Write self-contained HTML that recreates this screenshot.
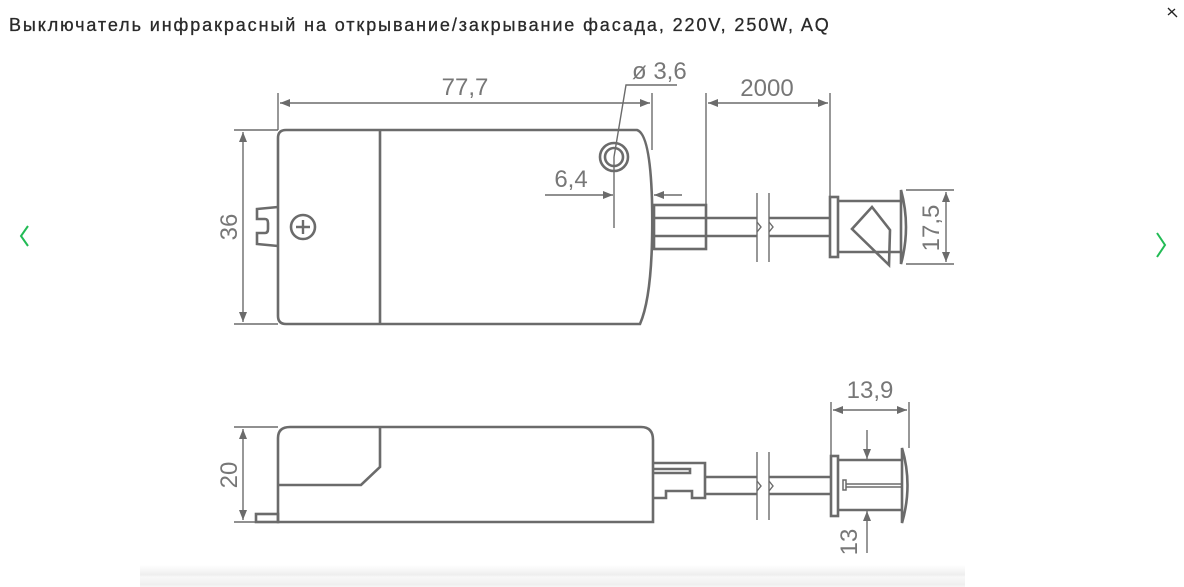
<!DOCTYPE html>
<html><head><meta charset="utf-8"><style>
html,body{margin:0;padding:0;background:#fff;width:1184px;height:587px;overflow:hidden;position:relative}
.t{position:absolute;left:9px;top:15px;font:18px "Liberation Sans","Noto Sans CJK SC",sans-serif;letter-spacing:1.9px;color:#2a2a2a;white-space:nowrap;-webkit-text-stroke:0.3px #2a2a2a}
svg{position:absolute;left:0;top:0}
.sh{position:absolute;left:140px;width:825px;top:565px;height:22px;background:linear-gradient(#fff,#eee 45%,#f8f8f8 55%,#efefef 90%,#f7f7f7)}
</style></head><body>
<div class="sh"></div>
<div class="t">Выключатель инфракрасный на открывание/закрывание фасада, 220V, 250W, AQ</div>
<svg width="1184" height="587" viewBox="0 0 1184 587">
<defs>
<marker id="a" viewBox="0 0 10 10" refX="10" refY="5" markerWidth="10" markerHeight="10" markerUnits="userSpaceOnUse" orient="auto-start-reverse"><path d="M0,1 L10,5 L0,9z" fill="#6b6b6b"/></marker>
</defs>
<g fill="none" stroke="#22bb55" stroke-width="2">
<polyline points="28,226 21,236 28,246"/>
<polyline points="1157,233 1165,245 1157,257"/>
</g>
<g stroke="#222" stroke-width="1.3"><line x1="1168" y1="8" x2="1177" y2="17"/><line x1="1168" y1="15" x2="1175" y2="9"/></g>
<g fill="none" stroke="#6b6b6b" stroke-width="2.6">
<path d="M286,130 H637 Q650,134 652,200 Q654,292 640,324 H286 Q278,324 278,316 V138 Q278,130 286,130Z"/>
<line x1="380" y1="130" x2="380" y2="324"/>
<path d="M278,207 L257,209 V219 H265 Q268,219 268,223 V229 Q268,233 265,233 H257 V244 L278,246"/>
<circle cx="303" cy="227" r="12"/>
<circle cx="614" cy="157" r="14"/><circle cx="614" cy="157" r="9"/>
<rect x="654" y="205" width="52" height="44"/>
<line x1="654" y1="218" x2="757" y2="218"/><line x1="654" y1="236" x2="757" y2="236"/>
<line x1="769" y1="218" x2="830" y2="218"/><line x1="769" y1="236" x2="830" y2="236"/>
<rect x="830" y="197" width="8" height="60"/>
<path d="M838,201 H900 M838,252 H900"/>
<path d="M901,190 Q911,227 901,264 Z"/>
<polygon points="872,207 890,230 889,265 852,229"/>
<path d="M278,522 V438 Q278,427 290,427 H641 Q653,427 653,440 V522 Z"/>
<path d="M380,427 V467 L361,485 H278"/>
<rect x="256" y="514" width="22" height="8"/>
<path d="M654,463 H705 V498 H692 V491 H666 V498 H654"/>
<path d="M654,469 H690 V473 H654"/>
<line x1="705" y1="477" x2="757" y2="477"/><line x1="705" y1="494" x2="757" y2="494"/>
<line x1="769" y1="477" x2="831" y2="477"/><line x1="769" y1="494" x2="831" y2="494"/>
<rect x="831" y="456" width="7" height="60"/>
<path d="M838,460 H902 M838,510 H902"/>
<path d="M902,448 Q913,485 902,523 Z"/>
<rect x="843" y="480" width="3" height="10" stroke-width="1.5"/>
</g>
<g fill="none" stroke="#6b6b6b" stroke-width="1.4">
<path d="M303,220 V234 M296,227 H310" stroke-width="2.4"/>
<path d="M757,193 V262 M769,193 V262 M757,452 V520 M769,452 V520"/>
<path d="M757,222 L761,227 L757,232 M769,222 L773,227 L769,232 M757,481 L761,486 L757,491 M769,481 L773,486 L769,491"/>
<path d="M846,484 H902 M846,487 H902"/>
<line x1="278" y1="93" x2="278" y2="130"/><line x1="652" y1="93" x2="652" y2="150"/>
<line x1="280" y1="103" x2="650" y2="103" marker-start="url(#a)" marker-end="url(#a)"/>
<line x1="706" y1="93" x2="706" y2="205"/><line x1="830" y1="93" x2="830" y2="197"/>
<line x1="708" y1="103" x2="828" y2="103" marker-start="url(#a)" marker-end="url(#a)"/>
<line x1="234" y1="130" x2="278" y2="130"/><line x1="234" y1="324" x2="278" y2="324"/>
<line x1="243" y1="132" x2="243" y2="322" marker-start="url(#a)" marker-end="url(#a)"/>
<path d="M614,157 L626,85 H677"/>
<line x1="614" y1="157" x2="614" y2="228"/>
<line x1="545" y1="195" x2="613" y2="195" marker-end="url(#a)"/>
<line x1="682" y1="195" x2="654" y2="195" marker-end="url(#a)"/>
<line x1="906" y1="190" x2="954" y2="190"/><line x1="906" y1="264" x2="954" y2="264"/>
<line x1="946" y1="192" x2="946" y2="262" marker-start="url(#a)" marker-end="url(#a)"/>
<line x1="234" y1="427" x2="278" y2="427"/><line x1="234" y1="522" x2="256" y2="522"/>
<line x1="243" y1="429" x2="243" y2="520" marker-start="url(#a)" marker-end="url(#a)"/>
<line x1="831" y1="402" x2="831" y2="456"/><line x1="909" y1="402" x2="909" y2="448"/>
<line x1="833" y1="410" x2="907" y2="410" marker-start="url(#a)" marker-end="url(#a)"/>
<line x1="867" y1="430" x2="867" y2="459" marker-end="url(#a)"/>
<line x1="867" y1="553" x2="867" y2="511" marker-end="url(#a)"/>
</g>
<g font-family="Liberation Sans, sans-serif" font-size="24" fill="#777">
<text x="465" y="95" text-anchor="middle">77,7</text>
<text x="767" y="96" text-anchor="middle">2000</text>
<text x="632" y="79">ø 3,6</text>
<text x="571" y="187" text-anchor="middle">6,4</text>
<text x="870" y="398" text-anchor="middle">13,9</text>
<text transform="translate(237,227) rotate(-90)" text-anchor="middle">36</text>
<text transform="translate(237,475) rotate(-90)" text-anchor="middle">20</text>
<text transform="translate(939,228) rotate(-90)" text-anchor="middle">17,5</text>
<text transform="translate(857,542) rotate(-90)" text-anchor="middle">13</text>
</g>
</svg>
</body></html>
